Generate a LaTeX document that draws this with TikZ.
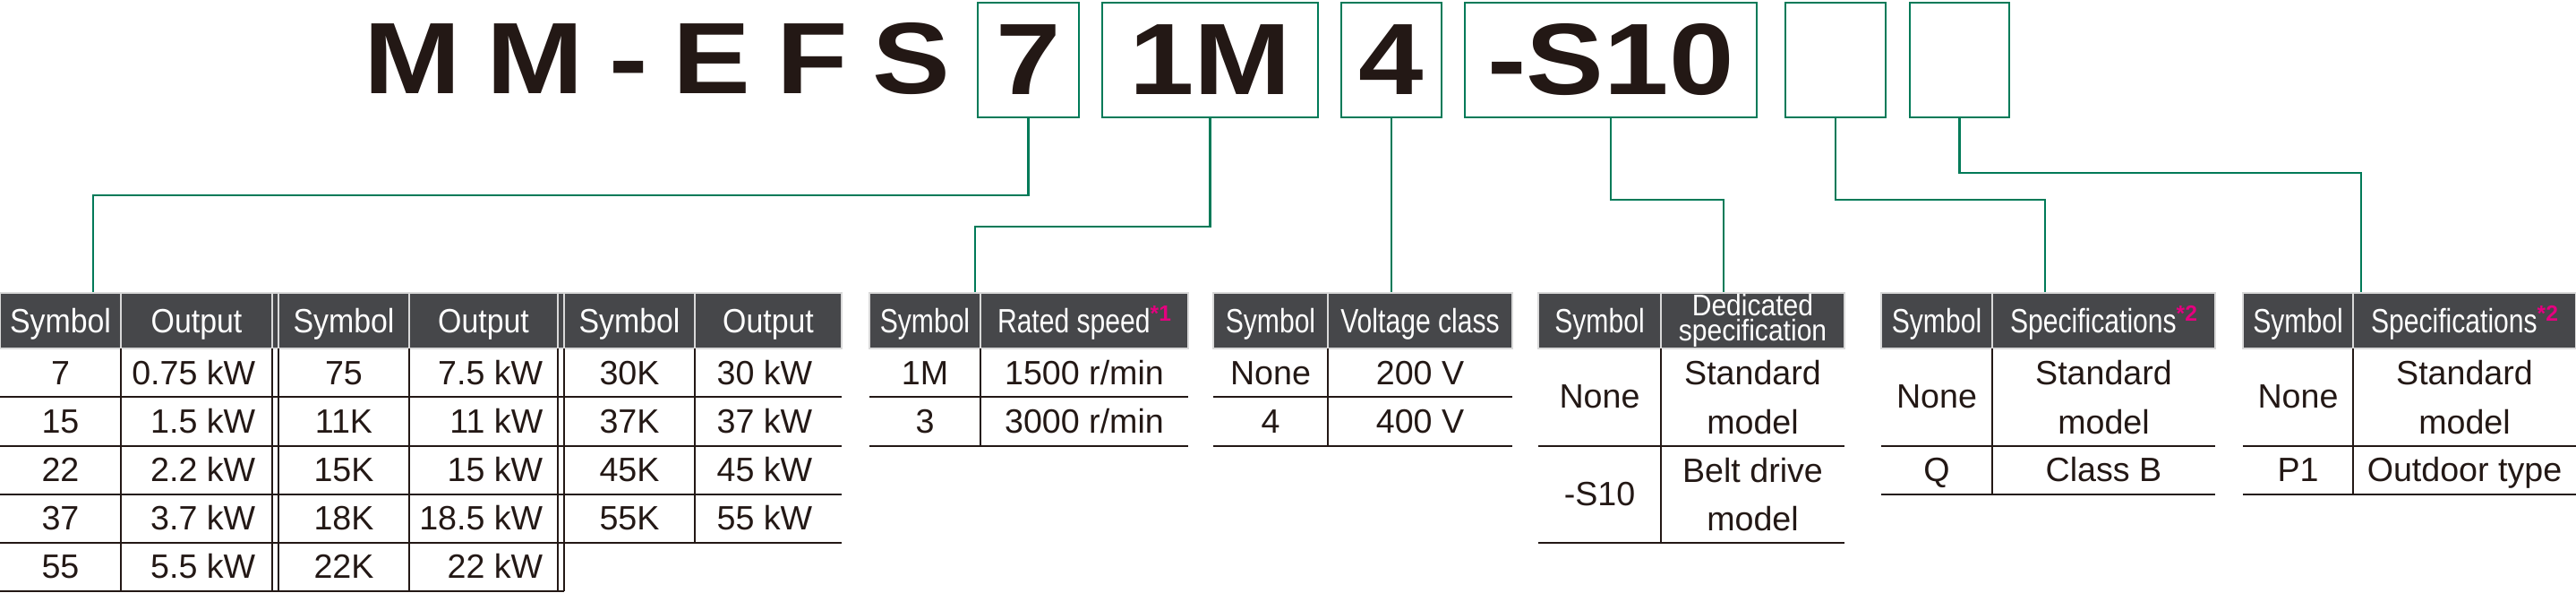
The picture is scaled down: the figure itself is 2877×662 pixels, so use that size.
\documentclass[tikz,border=0pt]{standalone}
\usepackage{fontspec}
\setmainfont{Liberation Sans}
\newfontfamily\codefont[FakeStretch=1.15]{Liberation Sans}
\newfontfamily\titlefont[FakeStretch=1.15,LetterSpace=25]{Liberation Sans}
\newfontfamily\headfont[FakeStretch=0.9]{Liberation Sans}
\newfontfamily\narrowfont[FakeStretch=0.8]{Liberation Sans}
\definecolor{mgreen}{RGB}{0,122,88}
\definecolor{hdgray}{RGB}{70,71,74}
\definecolor{ink}{RGB}{35,24,21}
\definecolor{mag}{RGB}{228,0,127}
\def\note#1{\raisebox{3.7pt}{\normalfont\bfseries\fontsize{7}{7}\selectfont\textcolor{mag}{*#1}}}

\begin{document}
\begin{tikzpicture}[x=0.01cm, y=-0.01cm,
	conn/.style={draw=mgreen, line width=0.65pt},
	codebox/.style={draw=mgreen, line width=0.77pt, minimum height=1.28cm, inner sep=0pt, text=ink, font=\codefont\bfseries\fontsize{32.2}{34}\selectfont},
	hdcell/.style={fill=hdgray, draw=black!15, line width=0.3pt},
	hd/.style={anchor=base, inner sep=0pt, text=white, font=\headfont\fontsize{10.7}{12}\selectfont},
	hdn/.style={hd, font=\narrowfont\fontsize{10.7}{12}\selectfont},
	cell/.style={anchor=base, inner sep=0pt, text=ink, font=\fontsize{10.7}{12}\selectfont},
	cellr/.style={cell, anchor=base east},
	cell2/.style={cell, anchor=center, align=center, font=\fontsize{10.7}{15.4}\selectfont},
	rule/.style={draw=ink, line width=0.6pt}]
		%%%%% START %%%%%
		\useasboundingbox (0,0) rectangle (2877,662);
		
		\node[anchor=base west, inner sep=0pt, text=ink, font=\titlefont\bfseries\fontsize{32.2}{34}\selectfont] (ttl) at (406,105) {MM-EFS};
		
		\node[codebox, minimum width=1.13cm] (b7) at (1148.5,67) {7};
		\node[codebox, minimum width=2.41cm] (b1M) at (1351.5,67) {1M};
		\node[codebox, minimum width=1.12cm] (b4) at (1554,67) {4};
		\node[codebox, minimum width=3.26cm] (bS10) at (1799,67) {-S10};
		\node[codebox, minimum width=1.12cm] (bE1) at (2050,67) {};
		\node[codebox, minimum width=1.11cm] (bE2) at (2188.5,67) {};
		
		%%%%% HEADERS %%%%%
		\draw[hdcell] (0,327) rectangle (135,389);
		\draw[hdcell] (135,327) rectangle (304,389);
		\draw[hdcell] (304,327) rectangle (311,389);
		\draw[hdcell] (311,327) rectangle (457,389);
		\draw[hdcell] (457,327) rectangle (623,389);
		\draw[hdcell] (623,327) rectangle (630,389);
		\draw[hdcell] (630,327) rectangle (776,389);
		\draw[hdcell] (776,327) rectangle (940,389);
		
		\draw[hdcell] (971,327) rectangle (1095,389);
		\draw[hdcell] (1095,327) rectangle (1327,389);
		\draw[hdcell] (1355,327) rectangle (1483,389);
		\draw[hdcell] (1483,327) rectangle (1689,389);
		\draw[hdcell] (1718,327) rectangle (1855,389);
		\draw[hdcell] (1855,327) rectangle (2060,389);
		\draw[hdcell] (2101,327) rectangle (2225,389);
		\draw[hdcell] (2225,327) rectangle (2474,389);
		\draw[hdcell] (2505,327) rectangle (2628,389);
		\draw[hdcell] (2628,327) rectangle (2877,389);
		
		\node[hd] (hS1) at (67.5,372) {Symbol};
		\node[hd] (hO1) at (219.5,372) {Output};
		\node[hd] (hS2) at (384,372) {Symbol};
		\node[hd] (hO2) at (540,372) {Output};
		\node[hd] (hS3) at (703,372) {Symbol};
		\node[hd] (hO3) at (858,372) {Output};
		\node[hdn] (hSr) at (1033,372) {Symbol};
		\node[hdn] (hRs) at (1211,372) {Rated speed\note{1}};
		\node[hdn] (hSv) at (1419,372) {Symbol};
		\node[hdn] (hVc) at (1586,372) {Voltage class};
		\node[hdn] (hSd) at (1786.5,372) {Symbol};
		\node[hd, anchor=center, align=center, font=\headfont\fontsize{9.5}{8}\selectfont] (hDs) at (1957.5,358) {Dedicated\\specification};
		\node[hdn] (hSp1) at (2163,372) {Symbol};
		\node[hdn] (hSc1) at (2349.5,372) {Specifications\note{2}};
		\node[hdn] (hSp2) at (2566.5,372) {Symbol};
		\node[hdn] (hSc2) at (2752.5,372) {Specifications\note{2}};
		
		%%%%% CONNECTORS %%%%%
		\coordinate (k1) at (104,218);
		\coordinate (e1) at (104,326);
		\draw[conn] (b7.south) |- (k1) -- (e1);
		\coordinate (k2) at (1089,253);
		\coordinate (e2) at (1089,326);
		\draw[conn] (b1M.south) |- (k2) -- (e2);
		\coordinate (e3) at (1554,326);
		\draw[conn] (b4.south) -- (e3);
		\coordinate (k4) at (1925,223);
		\coordinate (e4) at (1925,326);
		\draw[conn] (bS10.south) |- (k4) -- (e4);
		\coordinate (k5) at (2284,223);
		\coordinate (e5) at (2284,326);
		\draw[conn] (bE1.south) |- (k5) -- (e5);
		\coordinate (k6) at (2637,193);
		\coordinate (e6) at (2637,326);
		\draw[conn] (bE2.south) |- (k6) -- (e6);
		
		%%%%% OUTPUT TABLE %%%%%
		\draw[rule] (0,443) -- (940,443);
		\draw[rule] (0,498) -- (940,498);
		\draw[rule] (0,552) -- (940,552);
		\draw[rule] (0,606) -- (940,606);
		\draw[rule] (0,660) -- (630,660);
		\draw[rule] (135,389) -- (135,660);
		\draw[rule] (304,389) -- (304,660);
		\draw[rule] (311,389) -- (311,660);
		\draw[rule] (457,389) -- (457,660);
		\draw[rule] (623,389) -- (623,660);
		\draw[rule] (630,389) -- (630,660);
		\draw[rule] (776,389) -- (776,606);
		
		\node[cell] (s7) at (67.5,430) {7};
		\node[cell] (s15) at (67.5,484) {15};
		\node[cell] (s22) at (67.5,538) {22};
		\node[cell] (s37) at (67.5,592) {37};
		\node[cell] (s55) at (67.5,646) {55};
		\node[cellr] (o7) at (286,430) {0.75 kW};
		\node[cellr] (o15) at (286,484) {1.5 kW};
		\node[cellr] (o22) at (286,538) {2.2 kW};
		\node[cellr] (o37) at (286,592) {3.7 kW};
		\node[cellr] (o55) at (286,646) {5.5 kW};
		
		\node[cell] (s75) at (384,430) {75};
		\node[cell] (s11K) at (384,484) {11K};
		\node[cell] (s15K) at (384,538) {15K};
		\node[cell] (s18K) at (384,592) {18K};
		\node[cell] (s22K) at (384,646) {22K};
		\node[cellr] (o75) at (607,430) {7.5 kW};
		\node[cellr] (o11K) at (607,484) {11 kW};
		\node[cellr] (o15K) at (607,538) {15 kW};
		\node[cellr] (o18K) at (607,592) {18.5 kW};
		\node[cellr] (o22K) at (607,646) {22 kW};
		
		\node[cell] (s30K) at (703,430) {30K};
		\node[cell] (s37K) at (703,484) {37K};
		\node[cell] (s45K) at (703,538) {45K};
		\node[cell] (s55K) at (703,592) {55K};
		\node[cellr] (o30K) at (908,430) {30 kW};
		\node[cellr] (o37K) at (908,484) {37 kW};
		\node[cellr] (o45K) at (908,538) {45 kW};
		\node[cellr] (o55K) at (908,592) {55 kW};
		
		%%%%% RATED SPEED %%%%%
		\draw[rule] (971,443) -- (1327,443);
		\draw[rule] (971,498) -- (1327,498);
		\draw[rule] (1095,389) -- (1095,498);
		\node[cell] (r1M) at (1033,430) {1M};
		\node[cell] (r3) at (1033,484) {3};
		\node[cell] (v1M) at (1211,430) {1500 r/min};
		\node[cell] (v3) at (1211,484) {3000 r/min};
		
		%%%%% VOLTAGE %%%%%
		\draw[rule] (1355,443) -- (1689,443);
		\draw[rule] (1355,498) -- (1689,498);
		\draw[rule] (1483,389) -- (1483,498);
		\node[cell] (vNone) at (1419,430) {None};
		\node[cell] (v4) at (1419,484) {4};
		\node[cell] (v200) at (1586,430) {200 V};
		\node[cell] (v400) at (1586,484) {400 V};
		
		%%%%% DEDICATED %%%%%
		\draw[rule] (1718,498) -- (2060,498);
		\draw[rule] (1718,606) -- (2060,606);
		\draw[rule] (1855,389) -- (1855,606);
		\node[cell] (dNone) at (1786.5,456) {None};
		\node[cell] (dS10) at (1786.5,565) {-S10};
		\node[cell2] (dStd) at (1957.5,443.5) {Standard\\model};
		\node[cell2] (dBelt) at (1957.5,552) {Belt drive\\model};
		
		%%%%% SPECIFICATIONS %%%%%
		\draw[rule] (2101,498) -- (2474,498);
		\draw[rule] (2101,552) -- (2474,552);
		\draw[rule] (2225,389) -- (2225,552);
		\node[cell] (pNone1) at (2163,456) {None};
		\node[cell] (pQ) at (2163,538) {Q};
		\node[cell2] (pStd1) at (2349.5,443.5) {Standard\\model};
		\node[cell] (pB) at (2349.5,538) {Class B};
		
		\draw[rule] (2505,498) -- (2877,498);
		\draw[rule] (2505,552) -- (2877,552);
		\draw[rule] (2628,389) -- (2628,552);
		\node[cell] (pNone2) at (2566.5,456) {None};
		\node[cell] (pP1) at (2566.5,538) {P1};
		\node[cell2] (pStd2) at (2752.5,443.5) {Standard\\model};
		\node[cell] (pOut) at (2752.5,538) {Outdoor type};
		
		%%%%% END %%%%%
\end{tikzpicture}
\end{document}
